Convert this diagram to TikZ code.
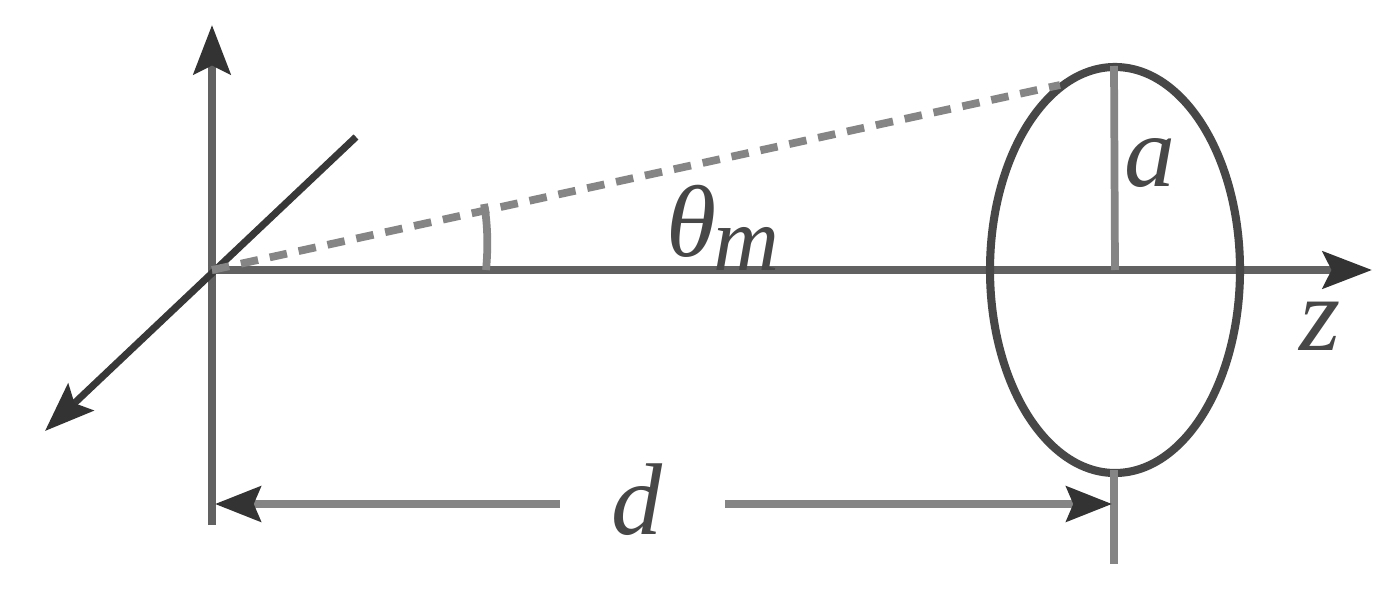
\documentclass[tikz,border=0pt]{standalone}
\usepackage{fontspec}
\setmainfont{Liberation Serif}
\usetikzlibrary{arrows.meta}
\tikzset{
 ax/.style={line width=2.3pt,draw=black!62},
 diag/.style={line width=2pt,draw=black!78},
 thinline/.style={line width=2.2pt,draw=black!48},
 head/.style={-{Stealth[length=14pt,width=10.5pt,inset=2.5pt,color=black!80]}},
 dimtip/.style={-{Stealth[length=13pt,width=10pt,inset=2pt,color=black!80]}},
 lab/.style={text=black!72,inner sep=0pt,font=\itshape}
}
\begin{document}
\begin{tikzpicture}[x=0.01cm,y=-0.01cm]
\useasboundingbox (0,0) rectangle (1400,591);
\fill[white] (0,0) rectangle (1400,591);
\coordinate (O) at (212,270);
\coordinate (yb) at (212,525);
\coordinate (yt) at (212,25);
\coordinate (xb) at (356,137);
\coordinate (xf) at (45,431);
\coordinate (zt) at (1372,270);
\coordinate (C) at (1115,270);
\coordinate (T) at (1114,66);
\coordinate (dl) at (215,504);
\coordinate (dr) at (1112,504);
\coordinate (dA) at (560,504);
\coordinate (dB) at (725,504);
\coordinate (tb) at (1114,470);
\coordinate (te) at (1114,564);
\coordinate (P) at (1060,85);
\draw[ax,head] (yb) -- (yt);
\draw[diag,head] (xb) -- (xf);
\draw[ax,head] (O) -- (zt);
\draw[ax,draw=black!72] (C) ellipse (125 and 203);
\draw[thinline] (T) -- (C);
\draw[thinline] (tb) -- (te);
\draw[thinline,dash pattern=on 5pt off 3.4pt] (O) -- (P);
\draw[thinline] (484,204) .. controls (488,225) and (488,250) .. (486,270);
\draw[thinline,dimtip] (dA) -- (dl);
\draw[thinline,dimtip] (dB) -- (dr);
\node[lab,font=\itshape\fontsize{29}{29}\selectfont] (a) at (1150,163) {a};
\node[lab,font=\itshape\fontsize{29}{29}\selectfont] (d) at (637,500) {d};
\node[lab,font=\itshape\fontsize{30}{30}\selectfont] (z) at (1320,326) {z};
\node[lab,font=\itshape\fontsize{29}{29}\selectfont] (th) at (723,228) {θ\kern-1pt\raisebox{-4pt}{\fontsize{26}{26}\selectfont m}};
\end{tikzpicture}
\end{document}
